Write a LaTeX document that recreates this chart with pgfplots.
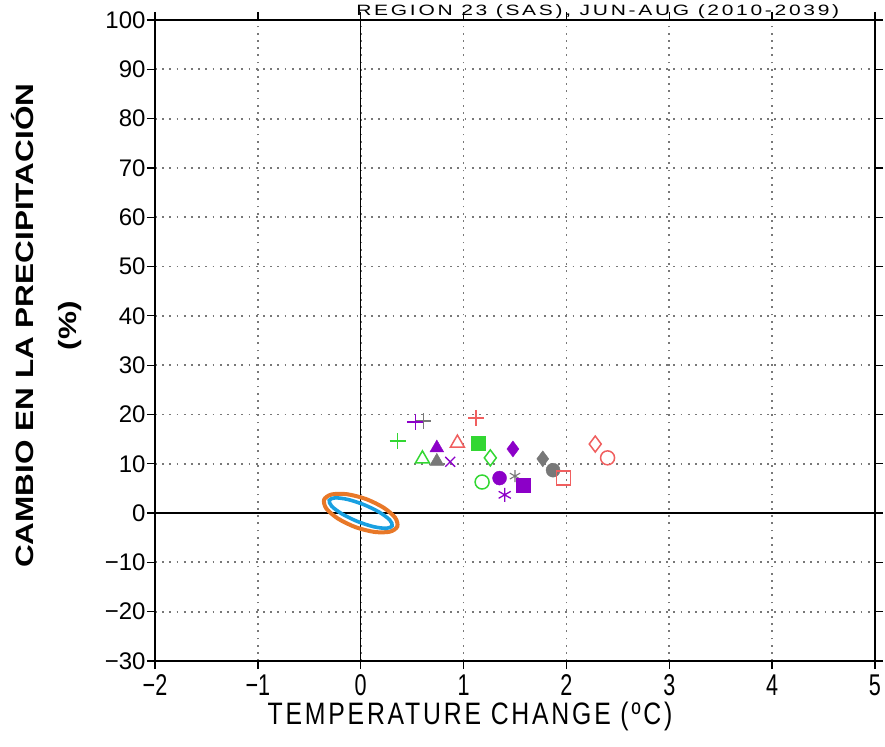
\documentclass[border=0pt]{standalone}
\usepackage{fontspec}
\setmainfont{Liberation Sans}
\newfontfamily\narrow[FakeStretch=0.72]{Liberation Sans}
\newfontfamily\xlabfont[FakeStretch=0.8, LetterSpace=9]{Liberation Sans}
\newfontfamily\titlefont[FakeStretch=1.4, LetterSpace=18]{Liberation Sans}
\newfontfamily\ylabfont[FakeStretch=1.26]{Liberation Sans}
\usepackage{pgfplots}
\pgfplotsset{compat=1.18}

\definecolor{mred}{RGB}{240,95,95}
\definecolor{mgreen}{RGB}{50,215,50}
\definecolor{mpurple}{RGB}{140,0,200}
\definecolor{mgray}{RGB}{120,120,120}
\definecolor{ellorange}{RGB}{232,120,40}
\definecolor{ellblue}{RGB}{25,160,225}

\begin{document}
\begin{tikzpicture}
\begin{axis}[
    name=ax,
    scale only axis,
    width=720pt, height=641pt,
    xmin=-2, xmax=5, ymin=-30, ymax=100,
    xtick={-2,-1,0,1,2,3,4,5},
    xticklabels={−2,−1,0,1,2,3,4,5},
    ytick={-30,-20,-10,0,10,20,30,40,50,60,70,80,90,100},
    yticklabels={−30,−20,−10,0,10,20,30,40,50,60,70,80,90,100},
    tick align=outside,
    major tick length=8pt,
    tick style={black, line width=1.3pt},
    axis line style={black, line width=2.6pt},
    grid=major,
    grid style={mgray, line width=1.8pt, dash pattern=on 1.8pt off 5.4pt},
    xticklabel style={font=\narrow\fontsize{30}{30}\selectfont, yshift=-2pt},
    yticklabel style={font=\fontsize{24}{24}\selectfont, xshift=2pt},
    xlabel={TEMPERATURE CHANGE (ºC)},
    xlabel style={font=\xlabfont\fontsize{31}{31}\selectfont,
        at={(axis description cs:0.4375,-0.087)}, anchor=center},
    ylabel={CAMBIO EN LA PRECIPITACIÓN\\(\%)},
    ylabel style={font=\ylabfont\bfseries\fontsize{25}{43}\selectfont, align=center,
        at={(axis description cs:-0.151,0.523)}, anchor=center},
    title={REGION 23 (SAS), JUN-AUG (2010-2039)},
    every axis title shift=0pt,
    title style={font=\titlefont\fontsize{15}{15}\selectfont, inner sep=0pt,
        at={(axis description cs:0.615,1)}, anchor=base, yshift=4.5pt},
    only marks,
]
% zero lines
\addplot[sharp plot, no marks, black, line width=1.3pt] coordinates {(0,-30) (0,100)};
\addplot[sharp plot, no marks, black, line width=1.3pt] coordinates {(-2,0) (5,0)};

% uncertainty ellipses
\addplot[smooth cycle, no marks, ellorange, line width=4pt] coordinates {
 (0.356,-2.71) (0.334,-0.91) (0.221,1.12) (0.050,2.86) (-0.135,3.83) (-0.284,3.77)
 (-0.356,2.71) (-0.334,0.91) (-0.221,-1.12) (-0.050,-2.86) (0.135,-3.83) (0.284,-3.77)};
\addplot[smooth cycle, no marks, ellblue, line width=3.6pt] coordinates {
 (0.306,-2.59) (0.282,-1.39) (0.182,0.17) (0.033,1.69) (-0.125,2.76) (-0.249,3.09)
 (-0.306,2.59) (-0.282,1.39) (-0.182,-0.17) (-0.033,-1.69) (0.125,-2.76) (0.249,-3.09)};

% models
\addplot[mgray, mark=+, mark size=8pt, mark options={line width=1.4pt}] coordinates {(0.61,18.7)};
\addplot[mpurple, mark=+, mark size=8pt, mark options={line width=1.4pt}] coordinates {(0.53,18.5)};
\addplot[mred, mark=+, mark size=8pt, mark options={line width=1.4pt}] coordinates {(1.12,19.3)};
\addplot[mgreen, mark=+, mark size=8pt, mark options={line width=1.4pt}] coordinates {(0.36,14.6)};
\addplot[mgreen, mark=triangle, mark size=8pt, mark options={line width=1.5pt}] coordinates {(0.60,11.0)};
\addplot[mgray, mark=triangle*, mark size=8pt] coordinates {(0.74,10.5)};
\addplot[mpurple, mark=triangle*, mark size=8pt] coordinates {(0.74,13.2)};
\addplot[mpurple, mark=x, mark size=7pt, mark options={line width=1.4pt}] coordinates {(0.87,10.4)};
\addplot[mred, mark=triangle, mark size=8pt, mark options={line width=1.5pt}] coordinates {(0.94,14.2)};
\addplot[mgreen, mark=square*, mark size=7pt] coordinates {(1.14,14.2)};
\addplot[mgreen, mark=diamond, mark size=8pt, mark options={line width=1.5pt}] coordinates {(1.26,11.2)};
\addplot[mpurple, mark=diamond*, mark size=8pt] coordinates {(1.48,13.0)};
\addplot[mgreen, mark=o, mark size=7pt, mark options={line width=1.5pt}] coordinates {(1.18,6.3)};
\addplot[mpurple, mark=*, mark size=7pt] coordinates {(1.35,7.1)};
\addplot[mpurple, mark=asterisk, mark size=7pt, mark options={line width=1.3pt}] coordinates {(1.40,3.7)};
\addplot[mgray, mark=asterisk, mark size=6pt, mark options={line width=1.1pt}] coordinates {(1.50,7.5)};
\addplot[mpurple, mark=square*, mark size=7pt] coordinates {(1.58,5.7)};
\addplot[mgray, mark=diamond*, mark size=8pt] coordinates {(1.77,11.0)};
\addplot[mgray, mark=*, mark size=7pt] coordinates {(1.87,8.7)};
\addplot[mred, mark=square, mark size=7pt, mark options={line width=1.5pt}] coordinates {(1.97,7.1)};
\addplot[mred, mark=diamond, mark size=8pt, mark options={line width=1.5pt}] coordinates {(2.28,14.0)};
\addplot[mred, mark=o, mark size=7pt, mark options={line width=1.5pt}] coordinates {(2.40,11.2)};
\end{axis}
\pgfresetboundingbox
\path[use as bounding box] ([shift={(-155pt,-85pt)}]ax.south west) rectangle ([shift={(10pt,20pt)}]ax.north east);
\end{tikzpicture}
\end{document}
